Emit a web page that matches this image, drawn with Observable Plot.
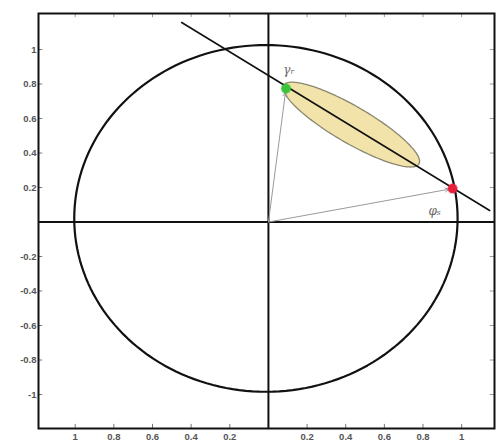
<!DOCTYPE html>
<html>
<head>
<meta charset="utf-8">
<script src="https://cdn.jsdelivr.net/npm/d3@7"></script>
<script src="https://cdn.jsdelivr.net/npm/@observablehq/plot@0.6"></script>
<style>
  html, body { margin: 0; padding: 0; background: #fff; }
  svg { display: block; }
</style>
</head>
<body>
<div id="chart"></div>
<script>
// ---- data ----
const xDomain = [-1.19, 1.17];
const yDomain = [-1.197, 1.209];
const xTicks = [-1, -0.8, -0.6, -0.4, -0.2, 0.2, 0.4, 0.6, 0.8, 1];
const yTicks = [-1, -0.8, -0.6, -0.4, -0.2, 0.2, 0.4, 0.6, 0.8, 1];
const circleCenter = [-0.013, 0.021];
const circleRadius = [0.992, 1.005];
const lineEnds = [{x: -0.449, y: 1.157}, {x: 1.145, y: 0.067}];
const ellipseCenter = [0.429, 0.565];
const ellipseMajor = [0.35, -0.228];
const ellipseMinor = [0.048, 0.092];
const pointNames = ["γᵣ", "φₛ"];
const pointX = [0.091, 0.953];
const pointY = [0.774, 0.194];
const pointColors = ["#3cc43c", "#e81e3c"];
const labelX = [0.106, 0.86];
const labelY = [0.878, 0.062];

// ---- derived shapes ----
const angles = d3.range(0, 361, 2).map(d => d * Math.PI / 180);
const circle = angles.map(t => ({x: circleCenter[0] + circleRadius[0] * Math.cos(t), y: circleCenter[1] + circleRadius[1] * Math.sin(t)}));
const ellipse = angles.map(t => ({
  x: ellipseCenter[0] + ellipseMajor[0] * Math.cos(t) + ellipseMinor[0] * Math.sin(t),
  y: ellipseCenter[1] + ellipseMajor[1] * Math.cos(t) + ellipseMinor[1] * Math.sin(t)
}));
const pts = pointNames.map((n, i) => ({name: n, x0: 0, y0: 0, x: pointX[i], y: pointY[i], color: pointColors[i], lx: labelX[i], ly: labelY[i]}));

const tx = 0.022, ty = 0.024; // inward tick lengths in data units
const fmt = d => String(Math.abs(d));
const fmtY = d => String(d);

const chart = Plot.plot({
  width: 496,
  height: 446,
  marginLeft: 38,
  marginRight: 2,
  marginTop: 13,
  marginBottom: 18,
  style: {fontFamily: "'Liberation Sans', Arial, sans-serif", fontSize: "9.5px", background: "#fff"},
  x: {domain: xDomain},
  y: {domain: yDomain},
  marks: [
    Plot.axisX(xTicks, {tickSize: 0, tickPadding: 5, tickFormat: fmt, fill: "#555", fontWeight: "bold", label: null}),
    Plot.axisY(yTicks, {tickSize: 0, tickPadding: 2, tickFormat: fmtY, fill: "#555", fontWeight: "bold", label: null}),
    // inward ticks on all four sides
    Plot.ruleX(xTicks, {x: d => d, y1: () => yDomain[0], y2: () => yDomain[0] + ty, stroke: "#777", strokeWidth: 1}),
    Plot.ruleX(xTicks, {x: d => d, y1: () => yDomain[1], y2: () => yDomain[1] - ty, stroke: "#999", strokeWidth: 1}),
    Plot.ruleY(yTicks, {y: d => d, x1: () => xDomain[0], x2: () => xDomain[0] + tx, stroke: "#777", strokeWidth: 1}),
    Plot.ruleY(yTicks, {y: d => d, x1: () => xDomain[1], x2: () => xDomain[1] - tx, stroke: "#999", strokeWidth: 1}),
    Plot.ruleX([0], {stroke: "#111", strokeWidth: 2}),
    Plot.ruleY([0], {stroke: "#111", strokeWidth: 2}),
    Plot.line(circle, {x: "x", y: "y", stroke: "#111", strokeWidth: 2.2, curve: "linear"}),
    Plot.line(ellipse, {x: "x", y: "y", fill: "#f2e3aa", stroke: "#8a8670", strokeWidth: 1.3}),
    Plot.line(lineEnds, {x: "x", y: "y", stroke: "#111", strokeWidth: 1.6}),
    Plot.arrow(pts, {x1: "x0", y1: "y0", x2: "x", y2: "y", stroke: "#9a9a9a", strokeWidth: 1, headLength: 6, insetEnd: 4}),
    Plot.dot(pts, {x: "x", y: "y", r: 4.5, fill: "color", stroke: "color", strokeOpacity: 0.5, strokeWidth: 1.5}),
    Plot.text(pts, {x: "lx", y: "ly", text: "name", fill: "#666", fontStyle: "italic", fontSize: 12, fontFamily: "'DejaVu Serif', serif"}),
    Plot.frame({stroke: "#111", strokeWidth: 2})
  ]
});
document.getElementById("chart").append(chart);
</script>
</body>
</html>
